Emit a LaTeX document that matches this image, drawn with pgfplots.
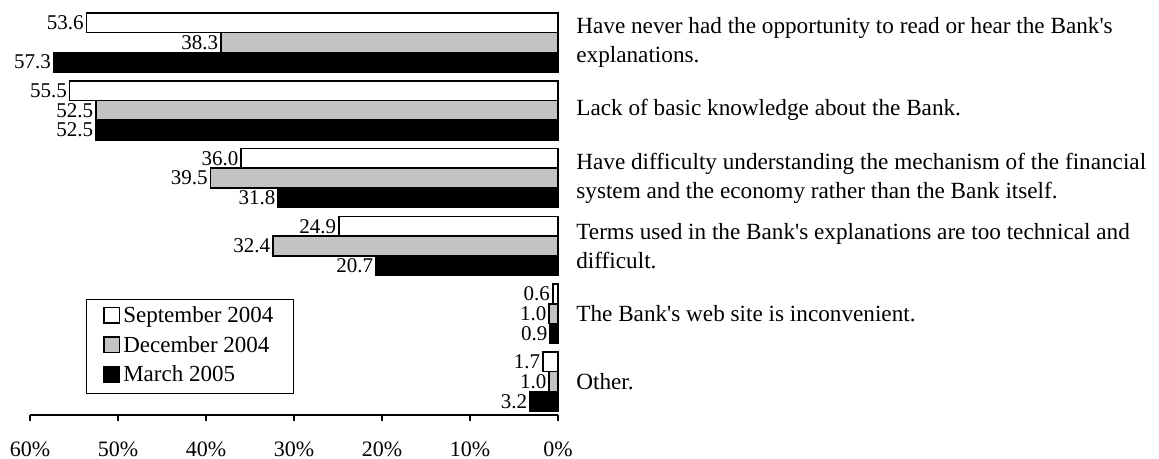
\documentclass[border=0pt]{standalone}
\usepackage{fontspec}
\setmainfont{Liberation Serif}
\usepackage{pgfplots}
\pgfplotsset{compat=1.18}
\definecolor{decgray}{RGB}{195,195,195}
\newcommand\ap{\textquotesingle}
\begin{document}
\begin{tikzpicture}
\begin{axis}[
  scale only axis,
  width=264pt, height=207.5pt,
  xbar, bar width=9.85pt,
  xmin=0, xmax=60, x dir=reverse,
  ymin=-0.494, ymax=5.627,
  axis x line*=bottom, axis y line=none,
  xtick={0,10,...,60},
  xticklabel={\pgfmathprintnumber{\tick}\%},
  /pgf/number format/assume math mode=true,
  tick align=outside, major tick length=3.25pt,
  xtick style={black, line width=0.7pt},
  axis line style={black, line width=0.7pt},
  xticklabel style={yshift=-6.5pt, font=\fontsize{11}{13}\selectfont},
  ytick=\empty,
  clip=false,
  nodes near coords={\pgfmathprintnumber[fixed,fixed zerofill,precision=1,assume math mode=true]{\pgfplotspointmeta}},
  every node near coord/.append style={anchor=east, inner sep=1pt, font=\fontsize{10.5}{12}\selectfont, black},
  legend style={at={(rel axis cs:0.106,0.2795)}, anchor=north west, draw=black, line width=0.5pt,
    font=\fontsize{11.5}{13.5}\selectfont, row sep=2.25pt, inner xsep=8.5pt, inner ysep=2.5pt,
    nodes={inner xsep=1.5pt, inner ysep=1pt, text height=8pt, text depth=2.5pt}},
  legend cell align=left,
  legend image code/.code={\draw[#1, line width=0.6pt] (0pt,-3pt) rectangle (7.8pt,4.8pt);},
]
\addplot[draw=black, fill=white, line width=0.8pt, bar shift=9.85pt] coordinates {(53.6,5) (55.5,4) (36.0,3) (24.9,2) (0.6,1) (1.7,0)};
\addplot[draw=black, fill=decgray, line width=0.8pt, bar shift=0pt] coordinates {(38.3,5) (52.5,4) (39.5,3) (32.4,2) (1.0,1) (1.0,0)};
\addplot[draw=black, fill=black, line width=0.8pt, bar shift=-9.85pt] coordinates {(57.3,5) (52.5,4) (31.8,3) (20.7,2) (0.9,1) (3.2,0)};
\legend{September 2004, December 2004, March 2005}
\begin{scope}[every node/.style={anchor=west, align=left, inner sep=0pt, xshift=9pt, font=\fontsize{11.6}{14.5}\selectfont}]
\node at (axis cs:0,5) {Have never had the opportunity to read or hear the Bank\ap s\\explanations.};
\node at (axis cs:0,4) {Lack of basic knowledge about the Bank.};
\node at (axis cs:0,3) {Have difficulty understanding the mechanism of the financial\\system and the economy rather than the Bank itself.};
\node at (axis cs:0,2) {Terms used in the Bank\ap s explanations are too technical and\\difficult.};
\node at (axis cs:0,1) {The Bank\ap s web site is inconvenient.};
\node at (axis cs:0,0) {Other.};
\end{scope}
\end{axis}
\pgfresetboundingbox
\path[use as bounding box] (-15pt,-22pt) rectangle (564.5pt,207.5pt);
\end{tikzpicture}
\end{document}
